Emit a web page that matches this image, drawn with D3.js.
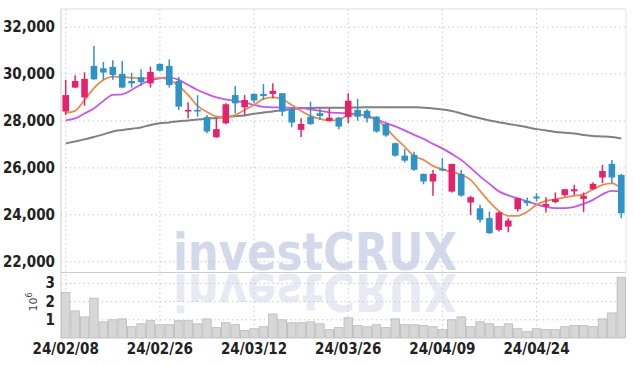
<!DOCTYPE html>
<meta charset="utf-8">
<style>
body { margin: 0; background: #fff; }
.grid line { stroke: #c6cadc; stroke-dasharray: 1.5,3; }
.lbl { font-family: "Liberation Sans Narrow", "DejaVu Sans Condensed", sans-serif; font-size: 15px; font-weight: bold; fill: #222; }
</style>
<body>
<svg id="chart" width="634" height="366"></svg>
<script src="https://d3js.org/d3.v7.min.js"></script>
<script>

var dates = ["24/02/08","24/02/13","24/02/14","24/02/15","24/02/16","24/02/19","24/02/20","24/02/21","24/02/22","24/02/23",
  "24/02/26","24/02/27","24/02/28","24/02/29","24/03/04","24/03/05","24/03/06","24/03/07","24/03/08","24/03/11",
  "24/03/12","24/03/13","24/03/14","24/03/15","24/03/18","24/03/19","24/03/20","24/03/21","24/03/22","24/03/25",
  "24/03/26","24/03/27","24/03/28","24/03/29","24/04/01","24/04/02","24/04/03","24/04/04","24/04/05","24/04/08",
  "24/04/09","24/04/11","24/04/12","24/04/15","24/04/16","24/04/17","24/04/18","24/04/19","24/04/22","24/04/23",
  "24/04/24","24/04/25","24/04/26","24/04/29","24/04/30","24/05/02","24/05/03","24/05/07","24/05/08","24/05/09"];

var opens  = [28400,29420,29000,30340,30240,30300,30000,29700,29860,29600, 30425,30340,29700,28400,28470,28160,27300,27900,29100,28580,
              29150,29150,29150,29180,28510,27620,28180,28330,28000,28140, 28160,28470,28430,28180,27870,27050,26520,26550,25745,25420,
              25960,24990,25745,24525,24280,23860,23360,23500,24240,24600, 24780,24350,24540,24840,25000,24680,25095,25590,26170,25700];
var highs  = [29750,29950,30070,31190,30510,30580,30550,30050,30200,30310, 30450,30620,29880,28790,29100,28250,28110,28750,29490,29100,
              29180,29570,29600,29190,28540,28110,28820,28540,28540,28180, 29180,28940,28500,28200,27890,27080,26800,26690,25760,25915,
              26410,26170,25915,24810,24430,24140,24140,23860,24730,24740, 24920,24750,24950,25100,25280,24950,25390,26130,26340,25745];
var lows   = [28250,29400,28640,29750,29750,29750,29390,29420,29490,29420, 30100,29420,28470,28110,28180,27480,27290,27860,28330,28250,
              28750,28890,28970,28210,27730,27310,27830,28040,27970,27650, 27900,28010,27930,27500,27330,26480,26230,25880,25300,24810,
              25880,24950,24780,24000,23670,23190,23290,23260,24140,24380, 24570,24100,24500,24780,24850,24115,25065,25350,25350,23860];
var closes = [29100,29700,29790,29770,30060,29960,29420,29600,29650,30085, 30140,29530,28610,28470,28400,27550,27650,28710,28750,28890,
              28870,29060,29280,28400,27930,27870,27870,28210,28140,27760, 28860,28180,28110,27550,27380,26520,26310,25920,25420,25745,
              25890,26170,24820,24750,23790,23220,24100,23760,24710,24500, 24700,24460,24670,25090,25090,24810,25320,25870,25590,24070];

// moving averages
var ma5  = [28340,28430,28890,29400,29745,29890,29870,29830,29810,29810, 29830,29745,29489,29106,28638,28383,28192,28149,28255,28468,
            28681,28936,29000,28915,28681,28426,28213,28085,28021,28043, 28255,28277,28213,28085,27702,27277,26894,26511,26341,26085,
            25937,25830,25702,25489,25021,24554,24170,23958,23958,24128, 24426,24596,24660,24745,24809,24873,25086,25277,25341,25128];
var ma10 = [28021,28107,28319,28532,28851,29106,29128,29319,29553,29723, 29809,29851,29745,29532,29319,29149,29000,28915,28851,28787,
            28681,28596,28575,28575,28553,28553,28489,28426,28362,28340, 28319,28298,28192,28064,27915,27766,27596,27404,27234,27022,
            26830,26596,26341,26000,25639,25320,25000,24830,24703,24575, 24447,24341,24286,24286,24341,24468,24639,24873,25022,25000];
var maLong = [27043,27128,27213,27319,27426,27553,27617,27668,27724,27830, 27902,27936,27987,28021,28064,28098,28128,28170,28200,28234,
              28307,28362,28404,28455,28498,28541,28553,28562,28566,28566, 28566,28575,28579,28583,28583,28583,28583,28583,28562,28532,
              28489,28426,28319,28213,28115,28021,27945,27872,27809,27732, 27651,27596,27532,27498,27468,27404,27362,27340,27311,27247];

// volume in millions
var volume = [2.51,1.49,1.16,2.19,0.89,1.00,1.05,0.62,0.78,0.95, 0.73,0.73,0.95,0.95,0.78,1.05,0.57,0.84,0.73,0.41,
              0.51,0.62,1.32,1.00,0.84,0.84,0.89,0.78,0.46,0.57, 1.11,0.68,0.62,0.73,0.57,1.05,0.73,0.73,0.68,0.62,
              0.46,1.00,1.16,0.62,0.89,0.78,0.62,0.78,0.51,0.35, 0.51,0.46,0.46,0.62,0.68,0.68,0.62,1.05,1.38,3.34];

var priceTicks = [22000,24000,26000,28000,30000,32000];
var volTicks = [1,2,3];
var dateTicks = ["24/02/08","24/02/26","24/03/12","24/03/26","24/04/09","24/04/24"];

var upColor = "#e5236c", downColor = "#2f93c7";

var left = 61, right = 626, plotTop = 9, split = 272.5, bottom = 338;

var svg = d3.select("#chart");

var x = d3.scaleBand().domain(dates).range([left, right]);
var cx = function(d){ return x(d) + x.bandwidth()/2; };
var y = d3.scaleLinear().domain([21545, 32766]).range([split, plotTop]);
var yv = d3.scaleLinear().domain([0, 3.6]).range([bottom, split]);

// watermark + reflection
var wm = svg.append("g");
wm.append("text").attr("x", 173).attr("y", 270)
  .attr("textLength", 284).attr("lengthAdjust", "spacingAndGlyphs")
  .style("font-family", "DejaVu Sans").style("font-weight", "bold").style("font-size", "51px")
  .style("fill", "#d3d8ea").text("investCRUX");
wm.append("text").attr("x", 173).attr("y", 270)
  .attr("transform", "translate(0," + (2*272) + ") scale(1,-1)")
  .attr("textLength", 284).attr("lengthAdjust", "spacingAndGlyphs")
  .style("font-family", "DejaVu Sans").style("font-weight", "bold").style("font-size", "51px")
  .style("fill", "#e8eaf3").text("investCRUX");

// grids
var grid = svg.append("g").attr("class", "grid");
grid.selectAll(".hp").data(priceTicks).enter().append("line")
  .attr("x1", left).attr("x2", right).attr("y1", d => y(d)).attr("y2", d => y(d));
grid.selectAll(".hv").data(volTicks).enter().append("line")
  .attr("x1", left).attr("x2", right).attr("y1", d => yv(d)).attr("y2", d => yv(d));
grid.selectAll(".vx").data(dateTicks).enter().append("line")
  .attr("x1", cx).attr("x2", cx).attr("y1", plotTop).attr("y2", bottom);

// frame
svg.append("line").attr("x1", left).attr("x2", right).attr("y1", plotTop).attr("y2", plotTop).attr("stroke", "#ddd");
svg.append("line").attr("x1", left).attr("x2", right).attr("y1", split).attr("y2", split).attr("stroke", "#ccc");
svg.append("line").attr("x1", left).attr("x2", left).attr("y1", plotTop).attr("y2", bottom).attr("stroke", "#ccc");
svg.append("line").attr("x1", right).attr("x2", right).attr("y1", plotTop).attr("y2", split).attr("stroke", "#e4e4e4");

// volume bars
svg.append("g").selectAll("rect").data(volume).enter().append("rect")
  .attr("x", (d,i) => x(dates[i]) + 0.5)
  .attr("width", x.bandwidth() - 1)
  .attr("y", d => yv(d))
  .attr("height", d => bottom - yv(d))
  .attr("fill", "#d7d7d7").attr("stroke", "#b9b9b9").attr("stroke-width", 0.8);

// moving averages
var lineGen = function(arr){
  return d3.line().x((d,i) => cx(dates[i])).y(d => y(d)).curve(d3.curveMonotoneX)(arr);
};
svg.append("path").attr("d", lineGen(maLong)).attr("fill", "none").attr("stroke", "#808080").attr("stroke-width", 2);
svg.append("path").attr("d", lineGen(ma10)).attr("fill", "none").attr("stroke", "#c955ee").attr("stroke-width", 1.8);
svg.append("path").attr("d", lineGen(ma5)).attr("fill", "none").attr("stroke", "#ee8a4c").attr("stroke-width", 1.8);

// candles
var candles = svg.append("g").selectAll("g").data(dates).enter().append("g");
candles.append("line")
  .attr("x1", cx).attr("x2", cx)
  .attr("y1", (d,i) => y(highs[i])).attr("y2", (d,i) => y(lows[i]))
  .attr("stroke", (d,i) => closes[i] >= opens[i] ? upColor : downColor).attr("stroke-width", 1.5);
candles.append("rect")
  .attr("x", d => cx(d) - 3.3).attr("width", 6.6)
  .attr("y", (d,i) => y(Math.max(opens[i], closes[i])))
  .attr("height", (d,i) => Math.max(1.5, Math.abs(y(opens[i]) - y(closes[i]))))
  .attr("fill", (d,i) => closes[i] >= opens[i] ? upColor : downColor);

// price labels
svg.append("g").selectAll("text").data(priceTicks).enter().append("text")
  .attr("class", "lbl").attr("x", 55).attr("y", d => y(d) + 5)
  .attr("text-anchor", "end").text(d => d3.format(",")(d));

// volume labels
svg.append("g").selectAll("text").data(volTicks).enter().append("text")
  .attr("class", "lbl").attr("x", 55).attr("y", d => yv(d) + 5)
  .attr("text-anchor", "end").text(d => d);
var unit = svg.append("text").attr("transform", "translate(37,302) rotate(-90)")
  .attr("text-anchor", "middle")
  .style("font-family", "DejaVu Sans").style("font-size", "11px").style("fill", "#444");
unit.append("tspan").text("10");
unit.append("tspan").attr("dy", -5).style("font-size", "8px").text("6");

// date labels
svg.append("g").selectAll("text").data(dateTicks).enter().append("text")
  .attr("class", "lbl").attr("x", cx).attr("y", 354)
  .attr("text-anchor", "middle").text(d => d);

</script>
</body>
